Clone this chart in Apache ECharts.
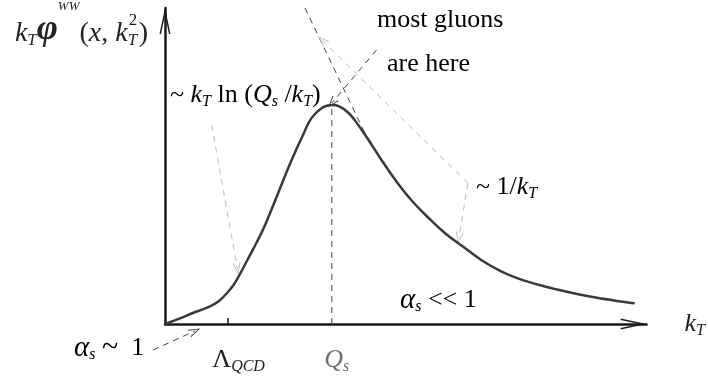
<!DOCTYPE html>
<html>
<head>
<meta charset="utf-8">
<script src="https://cdn.jsdelivr.net/npm/echarts@6/dist/echarts.min.js"></script>
<style>
  html, body { margin: 0; padding: 0; background: #ffffff; }
  #chart { width: 708px; height: 381px; }
</style>
</head>
<body>
<div id="chart"></div>
<script>
// Unintegrated gluon distribution k_T * phi(x, k_T^2) versus k_T (schematic units)
const kT = [0, 3.09, 5.77, 8.25, 9.90, 11.34, 12.78, 14.23, 15.46, 17.11,
            18.97, 20.41, 21.65, 23.09, 24.33, 25.77, 27.22, 28.66, 29.90, 31.13,
            32.58, 33.61, 34.64, 36.08, 38.14, 40.21, 42.27, 44.95, 47.84, 51.13,
            54.64, 58.35, 62.27, 65.98, 69.69, 73.40, 77.32, 81.44, 85.57, 89.69,
            93.81, 97.53];
const phiWW = [0, 1.80, 3.48, 4.84, 6.01, 7.44, 9.65, 12.34, 15.51, 20.25,
               25.63, 30.06, 34.49, 39.87, 44.62, 50.00, 55.06, 59.81, 63.92, 66.46,
               68.35, 69.05, 69.30, 68.92, 66.77, 62.82, 58.23, 51.90, 45.57, 39.24,
               33.70, 28.48, 24.05, 19.94, 16.77, 14.37, 12.50, 10.89, 9.49, 8.29,
               7.31, 6.55];

// Scales marked on the k_T axis
const lambdaQCD = 13.0;
const Qs = 34.64;

// Guide lines (data units)
const tailTangent = [[29.07, 100.0], [42.68, 56.65]];
const peakPointer = [[43.92, 86.71], [34.64, 69.94]];
const tailPointers = [
  [[62.89, 44.62], [32.58, 89.87]],
  [[62.89, 44.62], [61.03, 27.22]]
];
const risePointer = [[9.69, 62.97], [15.05, 17.41]];
const couplingPointer = [[-2.47, -8.23], [6.19, -2.22]];

const SERIF = 'Liberation Serif';
const INK = '#222222';
const GREY = '#707070';
const LIGHT = '#bdbdbd';
const DARK_DASH = '#444444';

const AXIS_ARROW = 'path://M5.5,0L11,26L9.5,26L5.5,7.1L1.5,26L0,26Z';
const HEAD = 'path://M4,0L8,12L7,12L4,2.6L1,12L0,12Z';

function richSet(color) {
  return {
    n:   { fontFamily: SERIF, fontSize: 26, lineHeight: 30, color: color },
    i:   { fontFamily: SERIF, fontSize: 26, lineHeight: 30, fontStyle: 'italic', color: color },
    a:   { fontFamily: SERIF, fontSize: 29, lineHeight: 30, fontStyle: 'italic', color: color },
    t:   { fontFamily: SERIF, fontSize: 30, lineHeight: 30, color: color },
    sub: { fontFamily: SERIF, fontSize: 16, lineHeight: 12, fontStyle: 'italic', verticalAlign: 'bottom', color: color },
    gap: { width: 22 },
    gapQ: { width: 10 }
  };
}
const inkRich = richSet(INK);
const greyRich = richSet(GREY);

// Axis title: every piece hangs from the line top, shifted down by its own top padding
function hung(size, top, extra) {
  return Object.assign({
    fontFamily: SERIF, fontSize: size, lineHeight: 50, color: INK,
    align: 'left', verticalAlign: 'top', padding: [top, 0, 0, 0]
  }, extra || {});
}
const titleRich = {
  n:    hung(28, 19.5),
  i:    hung(28, 19.5, { fontStyle: 'italic' }),
  sub:  hung(17, 32.5, { fontStyle: 'italic' }),
  subT: hung(17, 32.5, { fontStyle: 'italic', width: 1 }),
  sup2: hung(17, 12.5, { width: 10 }),
  phi:  hung(36, 11.5, { fontStyle: 'italic', fontWeight: 'bold' }),
  sup:  hung(13, 0.5, { fontStyle: 'italic' })
};

const curve = kT.map((k, idx) => [k, phiWW[idx]]);
const peakValue = Math.max.apply(null, phiWW);

function guide(name, coords, color, withHead) {
  return {
    type: 'lines',
    name: name,
    coordinateSystem: 'cartesian2d',
    polyline: false,
    clip: false,
    silent: true,
    symbol: withHead ? ['none', HEAD] : ['none', 'none'],
    symbolSize: [[8, 12], [8, 12]],
    lineStyle: { color: color, width: 1, type: [6, 5], opacity: 1, curveness: 0 },
    data: coords.map(c => ({ coords: c })),
    z: 3
  };
}

const chart = echarts.init(document.getElementById('chart'), null, { renderer: 'canvas' });

chart.setOption({
  animation: false,
  backgroundColor: '#ffffff',
  grid: { left: 165, right: 58, top: 8, bottom: 57 },
  xAxis: {
    type: 'value',
    min: 0,
    max: 100,
    name: '{i|k}{sub|T}',
    nameLocation: 'end',
    nameGap: 38,
    nameTextStyle: { align: 'left', verticalAlign: 'middle', rich: inkRich },
    axisLine: {
      show: true,
      symbol: ['none', AXIS_ARROW],
      symbolSize: [11, 26],
      symbolOffset: [0, -13],
      lineStyle: { color: '#1a1a1a', width: 2.5 }
    },
    axisTick: {
      show: true,
      inside: true,
      length: 6,
      customValues: [lambdaQCD],
      lineStyle: { color: '#1a1a1a', width: 1.5 }
    },
    axisLabel: {
      show: true,
      customValues: [lambdaQCD, Qs],
      margin: 21,
      formatter: function (v) {
        return Math.abs(v - lambdaQCD) < 1e-6
          ? '{gap|}{n|Λ}{sub|QCD}'
          : '{gapQ|}{qi|Q}{qs|s}';
      },
      rich: Object.assign({}, inkRich, {
        qi: greyRich.i,
        qs: greyRich.sub
      })
    },
    splitLine: { show: false }
  },
  yAxis: {
    type: 'value',
    min: 0,
    max: 100,
    name: '{i|k}{sub|T}{phi|φ}{sup|WW}{n|(}{i|x}{n|, }{i|k}{subT|T}{sup2|2}{n|)}',
    nameLocation: 'end',
    nameGap: -17,
    nameTextStyle: { align: 'right', verticalAlign: 'middle', padding: [0, 17, 0, 0], rich: titleRich },
    axisLine: {
      show: true,
      symbol: ['none', AXIS_ARROW],
      symbolSize: [11, 26],
      symbolOffset: [0, -13],
      lineStyle: { color: '#1a1a1a', width: 2.5 }
    },
    axisTick: { show: false },
    axisLabel: { show: false },
    splitLine: { show: false }
  },
  series: [
    {
      type: 'line',
      name: 'phiWW',
      data: curve,
      smooth: 0.4,
      showSymbol: false,
      symbol: 'none',
      lineStyle: { color: '#3a3a3a', width: 2.5 },
      z: 5
    },
    {
      type: 'line',
      name: 'Qs marker',
      data: [[Qs, 0], [Qs, peakValue]],
      showSymbol: false,
      symbol: 'none',
      lineStyle: { color: DARK_DASH, width: 1, type: [6, 5] },
      z: 2
    },
    guide('tangent', [tailTangent], DARK_DASH, false),
    guide('peak pointer', [peakPointer], DARK_DASH, true),
    guide('tail pointers', tailPointers, LIGHT, true),
    guide('rise pointer', [risePointer], LIGHT, true),
    guide('coupling pointer', [couplingPointer], DARK_DASH, true)
  ],
  graphic: [
    { type: 'text', x: 377, y: 20, style: { text: '{g|most gluons}', rich: { g: { fontFamily: SERIF, fontSize: 26, lineHeight: 30, color: GREY } }, verticalAlign: 'middle' } },
    { type: 'text', x: 387, y: 64, style: { text: '{g|are here}', rich: { g: { fontFamily: SERIF, fontSize: 26, lineHeight: 30, color: GREY } }, verticalAlign: 'middle' } },
    { type: 'text', x: 170, y: 95, style: { text: '{n|~ }{i|k}{sub|T}{n| ln (}{i|Q}{sub|s}{n| /}{i|k}{sub|T}{n|)}', rich: inkRich, verticalAlign: 'middle' } },
    { type: 'text', x: 476, y: 187, style: { text: '{n|~ 1/}{i|k}{sub|T}', rich: inkRich, verticalAlign: 'middle' } },
    { type: 'text', x: 400, y: 300, style: { text: '{a|α}{sub|s}{n| << 1}', rich: inkRich, verticalAlign: 'middle' } },
    { type: 'text', x: 74, y: 348, style: { text: '{a|α}{sub|s}{n| }{t|~}{n|  1}', rich: inkRich, verticalAlign: 'middle' } }
  ]
});
</script>
</body>
</html>
